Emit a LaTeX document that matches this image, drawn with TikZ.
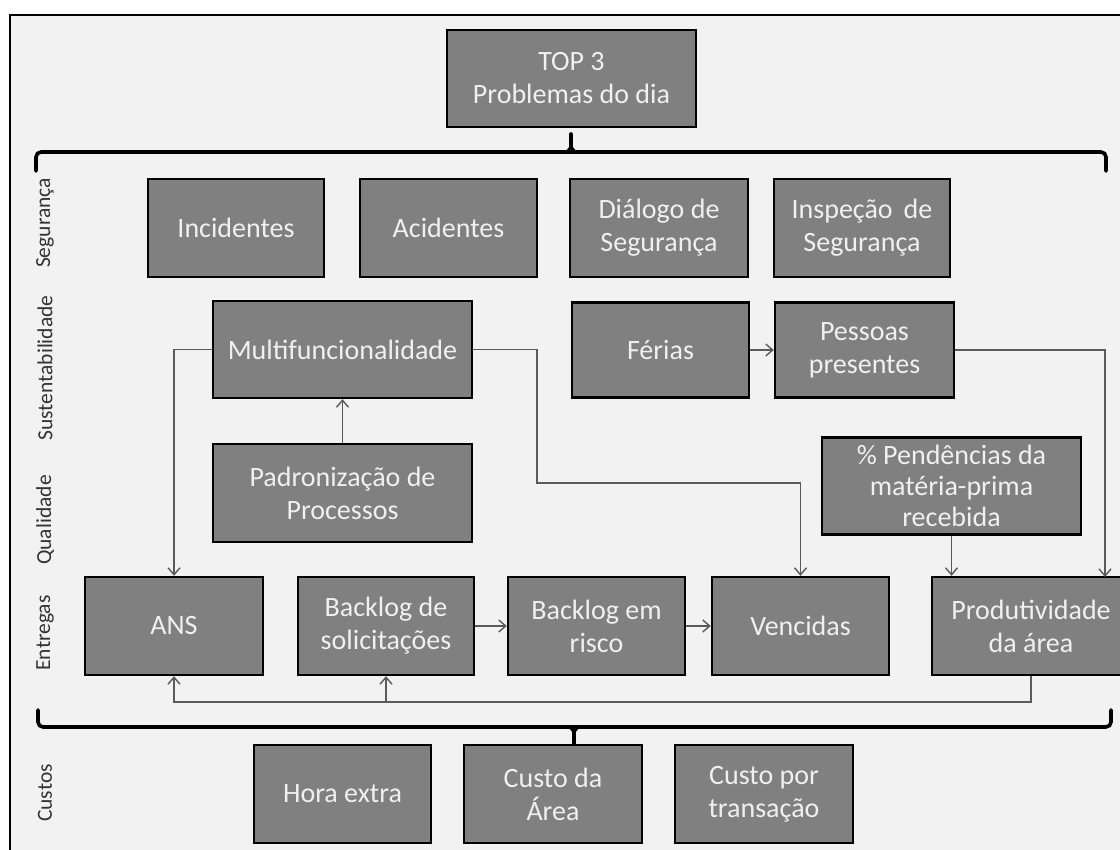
\documentclass[tikz,border=0pt]{standalone}
\usepackage{fontspec}
\setmainfont{Carlito}
\usetikzlibrary{arrows.meta}
\definecolor{bgc}{HTML}{F2F2F2}
\definecolor{boxc}{HTML}{808080}
\definecolor{linec}{HTML}{5A5A5A}
\definecolor{txtc}{HTML}{F0F0F0}
\begin{document}
\begin{tikzpicture}[x=1pt,y=-1pt,
  box/.style={draw=black,line width=2.4pt,fill=boxc,inner sep=0pt,align=center,
    text=txtc,font=\fontsize{28}{33}\selectfont},
  lanelabel/.style={rotate=90,inner sep=0pt,text=black!80,font=\fontsize{21.5}{25}\selectfont},
  conn/.style={draw=linec,line width=1.6pt,-{Straight Barb[length=7pt,width=12pt,line width=1.4pt]}},
  plain/.style={draw=linec,line width=1.6pt},
  brace/.style={draw=black,line width=3.6pt,rounded corners=5pt,line cap=round}]
\useasboundingbox (0,0) rectangle (1120,850);
\fill[white] (0,0) rectangle (1120,850);
\fill[bgc] (10,15) rectangle (1140,870);
\draw[line width=1.6pt] (10,870) -- (10,15) -- (1140,15);

% lane labels
\node[lanelabel] (lseg) at (45,223) {Segurança};
\node[lanelabel] (lsus) at (45,368) {Sustentabilidade};
\node[lanelabel] (lqua) at (45,520) {Qualidade};
\node[lanelabel] (lent) at (45,633) {Entregas};
\node[lanelabel] (lcus) at (45,793) {Custos};

% boxes
\node[box,minimum width=249pt,minimum height=97pt] (top) at (571.5,78.5) {TOP 3\\Problemas do dia};

\node[box,minimum width=176pt,minimum height=98pt] (inc) at (236,228) {Incidentes};
\node[box,minimum width=177pt,minimum height=98pt] (aci) at (448.5,228) {Acidentes};
\node[box,minimum width=178pt,minimum height=98pt] (dia) at (659,228) {Diálogo de\\Segurança};
\node[box,minimum width=176pt,minimum height=98pt] (ins) at (862,228) {Inspeção \,de\\Segurança};

\node[box,minimum width=259pt,minimum height=97pt] (mul) at (342.5,349.5) {Multifuncionalidade};
\node[box,minimum width=177pt,minimum height=95pt] (fer) at (660.5,350) {Férias};
\node[box,minimum width=179pt,minimum height=95pt] (pes) at (864.5,350) {Pessoas\\presentes};

\node[box,minimum width=259pt,minimum height=98pt] (pad) at (342.5,493) {Padronização de\\Processos};
\node[box,minimum width=259pt,minimum height=97pt,font=\fontsize{28}{31}\selectfont] (pen) at (951.5,486) {\% Pendências da\\matéria-prima\\recebida};

\node[box,minimum width=178pt,minimum height=98pt] (ans) at (174,626) {ANS};
\node[box,minimum width=176pt,minimum height=98pt] (bls) at (386,626) {Backlog de\\solicitações};
\node[box,minimum width=177pt,minimum height=98pt] (blr) at (596.5,626) {Backlog em\\risco};
\node[box,minimum width=177pt,minimum height=98pt] (ven) at (800.5,626) {Vencidas};
\node[box,minimum width=198pt,minimum height=98pt] (pro) at (1031,626) {Produtividade\\da área};

\node[box,minimum width=177pt,minimum height=98pt] (hor) at (342.5,794) {Hora extra};
\node[box,minimum width=178pt,minimum height=98pt] (cda) at (553,794) {Custo da\\Área};
\node[box,minimum width=178pt,minimum height=98pt] (cpt) at (764,794) {Custo por\\transação};

% braces
\coordinate (tb) at (571,152);
\draw[brace] (36,171) -- (36,152) -- (tb) -- (1106,152) -- (1106,171);
\draw[draw=black,line width=3.6pt,line cap=round] (tb) -- (571,134);
\fill[black] (563,152) .. controls (569,150) and (570,146) .. (570,140) -- (572,140) .. controls (572,146) and (573,150) .. (579,152) -- cycle;
\coordinate (bb) at (574,727);
\draw[brace] (38,710) -- (38,727) -- (bb) -- (1111,727) -- (1111,710);
\draw[draw=black,line width=3.6pt,line cap=round] (bb) -- (574,744);
\fill[black] (566,727) .. controls (572,729) and (573,733) .. (573,738) -- (575,738) .. controls (575,733) and (576,729) .. (582,727) -- cycle;

% connectors
\draw[conn] (pad.north) -- (mul.south);
\draw[conn] (mul.west) -| (ans.north);
\draw[conn] (mul.east) -- (537,349.5) |- (800.5,483) -- (ven.north);
\draw[conn] (fer.east) -- (pes.west);
\draw[conn] (pes.east) -- (1105,350) -- (1105,577);
\draw[conn] (pen.south) -- (pen.south |- pro.north);
\draw[conn] (bls.east) -- (blr.west);
\draw[conn] (blr.east) -- (ven.west);
\coordinate (fb) at (1031,702);
\draw[plain] (pro.south) -- (fb) -- (386,702);
\draw[conn] (fb) -| (ans.south);
\draw[conn] (386,702) -- (bls.south);
\end{tikzpicture}
\end{document}
